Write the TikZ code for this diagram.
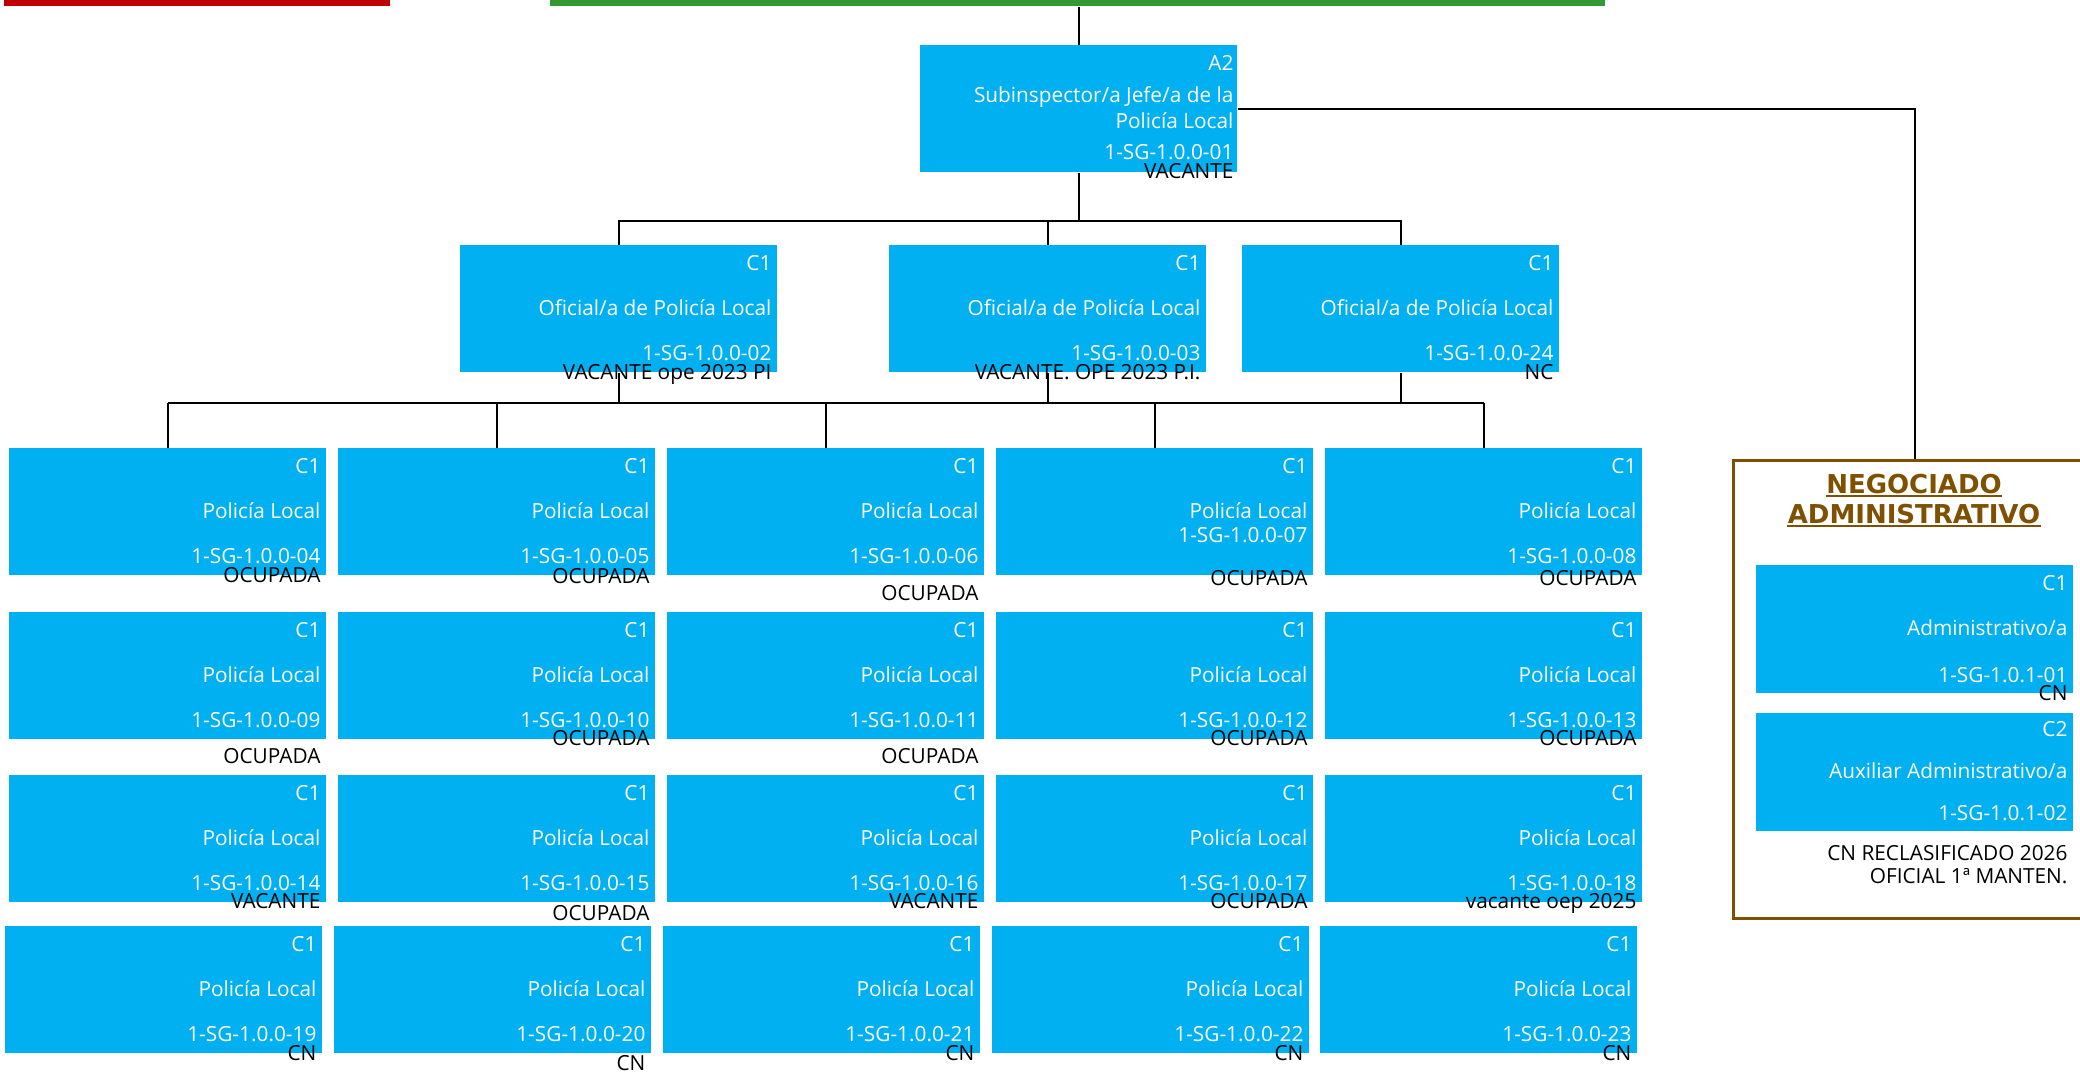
\documentclass[tikz,border=0pt]{standalone}
\usepackage{fontspec}
\setmainfont{Open Sans}
\newfontfamily\negfont{DejaVu Sans}
\usetikzlibrary{calc}
\definecolor{plazaazul}{RGB}{0,176,240}
\definecolor{marron}{RGB}{127,80,0}
\definecolor{rojobarra}{RGB}{192,0,0}
\definecolor{verdebarra}{RGB}{51,153,51}
\tikzstyle{plaza}=[rectangle, fill=plazaazul, inner sep=0pt, anchor=north west, minimum width=158.5pt, minimum height=63.5pt]
\tikzstyle{plazatxt}=[inner sep=0pt, anchor=base east, text=white, font=\fontsize{10.4}{12}\selectfont]
\tikzstyle{estado}=[plazatxt, text=black]
\tikzstyle{conector}=[draw=black, line width=1pt]
\tikzstyle{subrayado}=[draw=marron, line width=0.7pt]
\newcommand{\plazapolicia}[9]{% name, x, y, grupo, puesto, codigo, estado, dy codigo, dy estado
  \node[plaza] (#1) at (#2,#3) {};
  \node[plazatxt] (#1-g) at ($(#1.north east)+(-6,25)$) {#4};
  \node[plazatxt] (#1-p) at ($(#1.north east)+(-6,70)$) {#5};
  \node[plazatxt] (#1-c) at ($(#1.north east)+(-6,#8)$) {#6};
  \node[estado] (#1-e) at ($(#1.north east)+(-6,#9)$) {#7};
}
\begin{document}
\begin{tikzpicture}[x=0.5pt, y=-0.5pt]
\useasboundingbox (0,0) rectangle (2080,1072);
% barras de la parte superior
\fill[rojobarra] (4,0) rectangle (390,6);
\node[fill=verdebarra, inner sep=0pt, anchor=north west, minimum width=527.5pt, minimum height=3pt] (area) at (550,0) {};
% jefatura
\node[plaza] (jefe) at (920,45) {};
\node[plazatxt] (jefe-g) at ($(jefe.north east)+(-4,25)$) {A2};
\node[plazatxt] (jefe-p1) at ($(jefe.north east)+(-4,57)$) {Subinspector/a Jefe/a de la};
\node[plazatxt] (jefe-p2) at ($(jefe.north east)+(-4,83)$) {Policía Local};
\node[plazatxt] (jefe-c) at ($(jefe.north east)+(-4,114)$) {1-SG-1.0.0-01};
\node[estado] (jefe-e) at ($(jefe.north east)+(-4,133)$) {VACANTE};
% oficiales
\plazapolicia{of02}{460}{245}{C1}{Oficial/a de Policía Local}{1-SG-1.0.0-02}{VACANTE ope 2023 PI}{115}{134}
\plazapolicia{of03}{889}{245}{C1}{Oficial/a de Policía Local}{1-SG-1.0.0-03}{VACANTE. OPE 2023 P.I.}{115}{134}
\plazapolicia{of24}{1242}{245}{C1}{Oficial/a de Policía Local}{1-SG-1.0.0-24}{NC}{115}{134}
% agentes
\foreach \n/\px/\py/\est/\dc/\de in {
  04/9/448/OCUPADA/115/134, 05/338/448/OCUPADA/115/135, 06/667/448/OCUPADA/115/152,
  07/996/448/OCUPADA/94/137, 08/1325/448/OCUPADA/115/137,
  09/9/612/OCUPADA/115/151, 10/338/612/OCUPADA/115/133, 11/667/612/OCUPADA/115/151,
  12/996/612/OCUPADA/115/133, 13/1325/612/OCUPADA/115/133,
  14/9/775/VACANTE/115/133, 15/338/775/OCUPADA/115/145, 16/667/775/VACANTE/115/133,
  17/996/775/OCUPADA/115/133, 18/1325/775/vacante oep 2025/115/133,
  19/5/926/CN/115/134, 20/334/926/CN/115/144, 21/663/926/CN/115/134,
  22/992/926/CN/115/134, 23/1320/926/CN/115/134}
  {\plazapolicia{p\n}{\px}{\py}{C1}{Policía Local}{1-SG-1.0.0-\n}{\est}{\dc}{\de}}
% negociado administrativo
\node[draw=marron, line width=1.4pt, inner sep=0pt, anchor=north west, minimum width=182pt, minimum height=229pt] (neg) at (1732,459) {};
\node[inner sep=0pt, anchor=base, text=marron, font=\negfont\bfseries\fontsize{13}{15}\selectfont] (negA) at (1914,493) {NEGOCIADO};
\node[inner sep=0pt, anchor=base, text=marron, font=\negfont\bfseries\fontsize{13}{15}\selectfont] (negB) at (1914,523) {ADMINISTRATIVO};
\draw[subrayado] ([yshift=-1.5pt]negA.base west) -- ([yshift=-1.5pt]negA.base east);
\draw[subrayado] ([yshift=-1.5pt]negB.base west) -- ([yshift=-1.5pt]negB.base east);
\node[plaza, minimum height=64pt] (adm01) at (1756,565) {};
\node[plazatxt] (adm01-g) at ($(adm01.north east)+(-6,25)$) {C1};
\node[plazatxt] (adm01-p) at ($(adm01.north east)+(-6,70)$) {Administrativo/a};
\node[plazatxt] (adm01-c) at ($(adm01.north east)+(-6,117)$) {1-SG-1.0.1-01};
\node[estado] (adm01-e) at ($(adm01.north east)+(-6,135)$) {CN};
\node[plaza, minimum height=59pt] (aux02) at (1756,713) {};
\node[plazatxt] (aux02-g) at ($(aux02.north east)+(-6,23)$) {C2};
\node[plazatxt] (aux02-p) at ($(aux02.north east)+(-6,65)$) {Auxiliar Administrativo/a};
\node[plazatxt] (aux02-c) at ($(aux02.north east)+(-6,107)$) {1-SG-1.0.1-02};
\node[estado] (aux02-e1) at ($(aux02.north east)+(-6,147)$) {CN RECLASIFICADO 2026};
\node[estado] (aux02-e2) at ($(aux02.north east)+(-6,170)$) {OFICIAL 1ª MANTEN.};
% conectores
\draw[conector] (area.south -| jefe.north) -- (jefe.north);
\coordinate (busA) at ($(jefe.south)+(0,48)$);
\draw[conector] (jefe.south) -- (busA);
\foreach \o in {of02,of03,of24} \draw[conector] (busA) -| (\o.north);
\coordinate (busB) at ($(of03.south)+(0,30)$);
\foreach \o in {of02,of03,of24} \draw[conector] (\o.south) -- (\o.south |- busB);
\draw[conector] (busB -| p04.north) -- (busB -| p08.north);
\foreach \p in {p04,p05,p06,p07,p08} \draw[conector] (busB -| \p.north) -- (\p.north);
\draw[conector] (jefe.east) -| (neg.north);
\end{tikzpicture}
\end{document}
